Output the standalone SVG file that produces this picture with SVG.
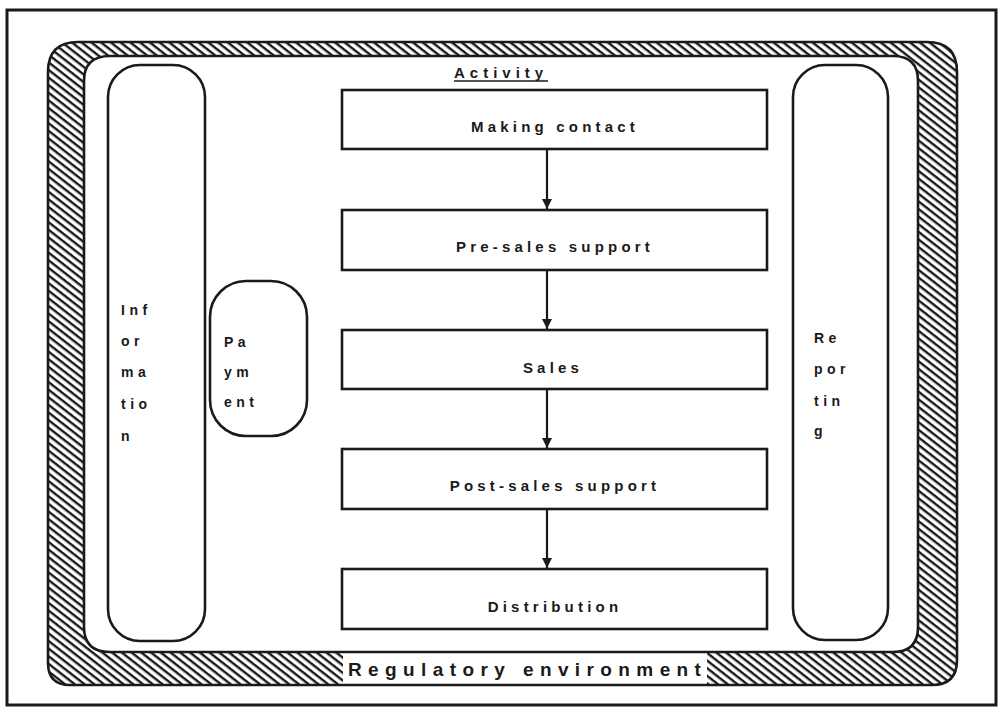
<svg xmlns="http://www.w3.org/2000/svg" width="1001" height="709" viewBox="0 0 1001 709">
<defs>
<pattern id="hatch" patternUnits="userSpaceOnUse" width="6" height="6" patternTransform="rotate(38)">
<rect x="0" y="0" width="6" height="6" fill="#fff"/>
<rect x="0" y="0" width="6" height="2.4" fill="#1a1a1a"/>
</pattern>
<marker id="arr" viewBox="0 0 10 10" refX="10" refY="5" markerWidth="10" markerHeight="10" markerUnits="userSpaceOnUse" orient="auto">
<path d="M0,0 L10,5 L0,10 z" fill="#1a1a1a"/>
</marker>
<style>
.box{fill:#fff;stroke:#1a1a1a;stroke-width:2.6}
.pill{fill:#fff;stroke:#1a1a1a;stroke-width:2.6}
.t{font-family:"Liberation Sans",Arial,sans-serif;font-weight:bold;font-size:15px;letter-spacing:4.2px;fill:#1a1a1a}
.side{font-family:"Liberation Sans",Arial,sans-serif;font-weight:bold;font-size:14px;letter-spacing:4.5px;fill:#1a1a1a}
.conn{stroke:#1a1a1a;stroke-width:2.2;fill:none}
</style>
</defs>
<rect width="1001" height="709" fill="#fff"/>
<rect x="7" y="10" width="989" height="695" fill="none" stroke="#1a1a1a" stroke-width="3"/>
<g id="regulatory">
<path d="M78,42 H927 Q957,42 957,72 V660 Q957,685 932,685 H70 Q48,685 48,663 V72 Q48,42 78,42 Z M110,56 H893 Q918,56 918,81 V627 Q918,652 893,652 H110 Q84,652 84,627 V81 Q84,56 110,56 Z" fill="url(#hatch)" fill-rule="evenodd" stroke="none"/>
<rect x="343" y="653" width="364" height="32" fill="#fff"/>
<path d="M78,42 H927 Q957,42 957,72 V660 Q957,685 932,685 H70 Q48,685 48,663 V72 Q48,42 78,42 Z M110,56 H893 Q918,56 918,81 V627 Q918,652 893,652 H110 Q84,652 84,627 V81 Q84,56 110,56 Z" fill="none" stroke="#1a1a1a" stroke-width="2.6"/>
<text x="348" y="676" font-family="Liberation Sans, Arial, sans-serif" font-weight="bold" font-size="19" letter-spacing="6.4" fill="#1a1a1a">Regulatory environment</text>
</g>
<g id="activity-label">
<text x="454" y="78" font-family="Liberation Sans, Arial, sans-serif" font-weight="bold" font-size="15" letter-spacing="5" fill="#1a1a1a">Activity</text>
<line x1="454" y1="81" x2="548" y2="81" stroke="#1a1a1a" stroke-width="1.6"/>
</g>
<g id="information">
<rect class="pill" x="108" y="65" width="97" height="576" rx="32"/>
<text class="side" x="121" y="315">Inf</text>
<text class="side" x="121" y="346">or</text>
<text class="side" x="121" y="377">ma</text>
<text class="side" x="121" y="409">tio</text>
<text class="side" x="121" y="441">n</text>
</g>
<g id="payment">
<rect class="pill" x="210" y="281" width="97" height="155" rx="36"/>
<text class="side" x="224" y="347">Pa</text>
<text class="side" x="224" y="377">ym</text>
<text class="side" x="224" y="407">ent</text>
</g>
<g id="reporting">
<rect class="pill" x="793" y="65" width="95" height="575" rx="32"/>
<text class="side" x="814" y="343">Re</text>
<text class="side" x="814" y="374">por</text>
<text class="side" x="814" y="406">tin</text>
<text class="side" x="814" y="436">g</text>
</g>
<g id="making-contact">
<rect class="box" x="342" y="90" width="425" height="59"/>
<text class="t" x="555" y="132" text-anchor="middle">Making contact</text>
</g>
<g id="pre-sales">
<rect class="box" x="342" y="210" width="425" height="60"/>
<text class="t" x="555" y="252" text-anchor="middle">Pre-sales support</text>
</g>
<g id="sales">
<rect class="box" x="342" y="330" width="425" height="59"/>
<text class="t" x="553" y="373" text-anchor="middle" letter-spacing="5.5">Sales</text>
</g>
<g id="post-sales">
<rect class="box" x="342" y="449" width="425" height="60"/>
<text class="t" x="555" y="491" text-anchor="middle">Post-sales support</text>
</g>
<g id="distribution">
<rect class="box" x="342" y="569" width="425" height="60"/>
<text class="t" x="555" y="612" text-anchor="middle">Distribution</text>
</g>
<g id="connectors">
<line class="conn" x1="547" y1="149" x2="547" y2="209" marker-end="url(#arr)"/>
<line class="conn" x1="547" y1="270" x2="547" y2="329" marker-end="url(#arr)"/>
<line class="conn" x1="547" y1="389" x2="547" y2="448" marker-end="url(#arr)"/>
<line class="conn" x1="547" y1="509" x2="547" y2="568" marker-end="url(#arr)"/>
</g>
</svg>
